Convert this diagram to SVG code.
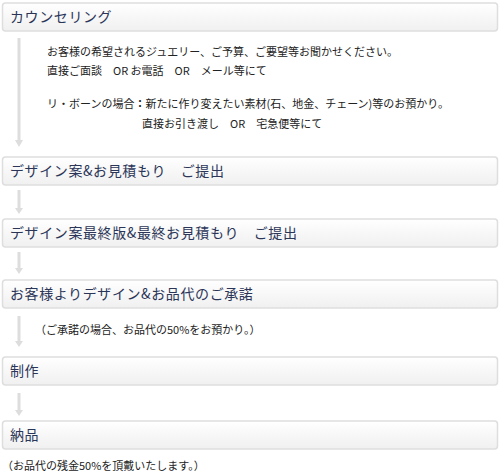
<svg xmlns="http://www.w3.org/2000/svg" width="500" height="474" viewBox="0 0 500 474">
<defs>
<linearGradient id="bg" x1="0" y1="0" x2="0" y2="1">
<stop offset="0" stop-color="#ffffff"/>
<stop offset="1" stop-color="#f0f0f0"/>
</linearGradient>
<style>
.box{fill:url(#bg);stroke:#dedede;stroke-width:1.5}
.title{font-family:"Noto Sans CJK JP","Noto Sans",sans-serif;font-size:14px;fill:#2b3558;letter-spacing:0.6px}
.body{font-family:"Noto Sans CJK JP","Noto Sans",sans-serif;font-size:11px;fill:#222222}
.line{stroke:#dddddd;stroke-width:3;fill:none}
.head{fill:#dddddd}
</style>
</defs>
<rect width="500" height="474" fill="#ffffff"/>
<g id="connectors">
<line class="line" x1="19" y1="38" x2="19" y2="140"/>
<path class="head" d="M15,140 L23,140 L19,147 Z"/>
<line class="line" x1="19" y1="190" x2="19" y2="208"/>
<path class="head" d="M15,208 L23,208 L19,214 Z"/>
<line class="line" x1="19" y1="252" x2="19" y2="268"/>
<path class="head" d="M15,268 L23,268 L19,274 Z"/>
<line class="line" x1="19" y1="316" x2="19" y2="341"/>
<path class="head" d="M15,341 L23,341 L19,347 Z"/>
<line class="line" x1="19" y1="393" x2="19" y2="410"/>
<path class="head" d="M15,410 L23,410 L19,416 Z"/>
</g>
<g id="node-counseling">
<rect class="box" x="2.5" y="3" width="495" height="28" rx="3"/>
<text class="title" x="10" y="22">カウンセリング</text>
</g>
<g id="note-counseling">
<text class="body" x="47" y="56">お客様の希望されるジュエリー、ご予算、ご要望等お聞かせください。</text>
<text class="body" x="47" y="75" xml:space="preserve">直接ご面談　OR お電話　OR　メール等にて</text>
<text class="body" x="47" y="108">リ・ボーンの場合<tspan font-weight="bold">：</tspan>新たに作り変えたい素材(石、地金、チェーン)等のお預かり。</text>
<text class="body" x="142" y="128" xml:space="preserve">直接お引き渡し　OR　宅急便等にて</text>
</g>
<g id="node-design">
<rect class="box" x="2.5" y="157" width="495" height="28" rx="3"/>
<text class="title" x="10" y="176">デザイン案&amp;お見積もり　ご提出</text>
</g>
<g id="node-final">
<rect class="box" x="2.5" y="219" width="495" height="28" rx="3"/>
<text class="title" x="10" y="238">デザイン案最終版&amp;最終お見積もり　ご提出</text>
</g>
<g id="node-approval">
<rect class="box" x="2.5" y="280" width="495" height="28" rx="3"/>
<text class="title" x="10" y="299">お客様よりデザイン&amp;お品代のご承諾</text>
</g>
<g id="note-approval">
<text class="body" x="35" y="334">（ご承諾の場合、お品代の50%をお預かり。）</text>
</g>
<g id="node-production">
<rect class="box" x="2.5" y="357" width="495" height="28" rx="3"/>
<text class="title" x="10" y="376" letter-spacing="4px">制作</text>
</g>
<g id="node-delivery">
<rect class="box" x="2.5" y="421" width="495" height="28" rx="3"/>
<text class="title" x="10" y="440" letter-spacing="4px">納品</text>
</g>
<g id="note-delivery">
<text class="body" x="2" y="470">（お品代の残金50%を頂戴いたします。）</text>
</g>
</svg>
